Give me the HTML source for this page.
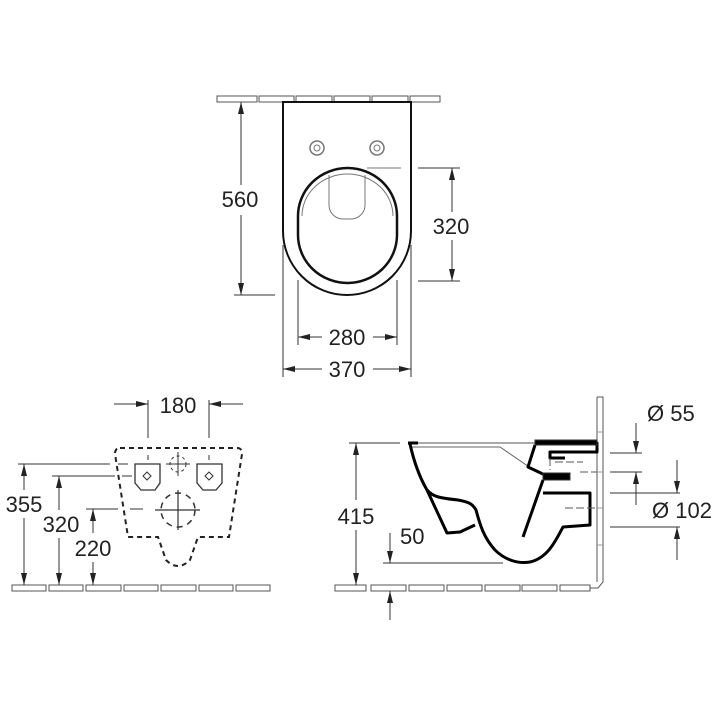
<!DOCTYPE html>
<html><head><meta charset="utf-8"><style>
html,body{margin:0;padding:0;background:#fff}
svg{display:block}
text{font-family:"Liberation Sans",sans-serif;font-size:22px;fill:#222}
</style></head><body>
<svg width="720" height="720" viewBox="0 0 720 720" xmlns="http://www.w3.org/2000/svg">
<defs>
<marker id="a" viewBox="0 0 12 6" refX="12" refY="3" markerWidth="12" markerHeight="6" markerUnits="userSpaceOnUse" orient="auto"><path d="M0,0 L12,3 L0,6 Z" fill="#222"/></marker>
</defs>
<g fill="none" stroke="#333" stroke-width="1">
<!-- TOP VIEW -->
<g stroke="#555">
<rect x="217" y="96" width="40" height="6"/><rect x="259" y="96" width="35" height="6"/><rect x="296" y="96" width="36" height="6"/><rect x="334" y="96" width="36" height="6"/><rect x="372" y="96" width="36" height="6"/><rect x="410" y="96" width="30" height="6"/>
</g>
<path d="M283,102 V231 A64,64 0 0 0 411,231 V102 Z" fill="#fff" stroke="#111" stroke-width="2"/>
<circle cx="317" cy="148" r="7" stroke="#777" stroke-width="1.5"/><circle cx="317" cy="148" r="3" stroke="#777"/>
<circle cx="377" cy="148" r="7" stroke="#777" stroke-width="1.5"/><circle cx="377" cy="148" r="3" stroke="#777"/>
<path d="M298,216 A49.5,48 0 0 1 397,216 V235 A49.5,48 0 0 1 298,235 Z" stroke="#111" stroke-width="2.5"/>
<path d="M302,216 A45.5,42 0 0 1 393,216" stroke="#777"/>
<path d="M329,175 V205 A14,14 0 0 0 343,219 H351 A14,14 0 0 0 365,205 V175" stroke="#777"/>
<line x1="234" y1="295" x2="275" y2="295"/>
<line x1="241" y1="185" x2="241" y2="102" marker-end="url(#a)"/>
<line x1="241" y1="215" x2="241" y2="295" marker-end="url(#a)"/>
<line x1="367" y1="168" x2="401" y2="168" stroke="#777"/>
<line x1="418" y1="168" x2="460" y2="168"/>
<line x1="418" y1="281" x2="460" y2="281"/>
<line x1="452" y1="212" x2="452" y2="168" marker-end="url(#a)"/>
<line x1="452" y1="240" x2="452" y2="281" marker-end="url(#a)"/>
<line x1="298" y1="280" x2="298" y2="345"/><line x1="397" y1="280" x2="397" y2="345"/>
<line x1="322" y1="337" x2="298" y2="337" marker-end="url(#a)"/>
<line x1="373" y1="337" x2="397" y2="337" marker-end="url(#a)"/>
<line x1="283" y1="245" x2="283" y2="377"/><line x1="411" y1="245" x2="411" y2="377"/>
<line x1="322" y1="369" x2="283" y2="369" marker-end="url(#a)"/>
<line x1="373" y1="369" x2="411" y2="369" marker-end="url(#a)"/>

<!-- FRONT VIEW -->
<g stroke="#555">
<rect x="12" y="585" width="34" height="6"/><rect x="49" y="585" width="34" height="6"/><rect x="86" y="585" width="35" height="6"/><rect x="124" y="585" width="34" height="6"/><rect x="161" y="585" width="35" height="6"/><rect x="199" y="585" width="34" height="6"/><rect x="236" y="585" width="34" height="6"/>
</g>
<line x1="148" y1="400" x2="148" y2="438"/><line x1="209" y1="400" x2="209" y2="438"/>
<line x1="114" y1="404" x2="148" y2="404" marker-end="url(#a)"/>
<line x1="243" y1="404" x2="209" y2="404" marker-end="url(#a)"/>
<path d="M120,448 H237 Q242,448 242,454 L229,537 H198 L190,560 Q178,572 166,560 L158,537 H128 L115,454 Q115,448 120,448 Z" stroke="#222" stroke-width="2" stroke-dasharray="5,4"/>
<path d="M135,464 H160 V483 L155,490 H141 L135,483 Z" stroke="#333" stroke-width="1.3"/>
<path d="M197,464 H222 V483 L216,490 H203 L197,483 Z" stroke="#333" stroke-width="1.3"/>
<path d="M143,476 L147,472 L151,476 L147,480 Z M205,476 L209,472 L213,476 L209,480 Z"/>
<line x1="148" y1="455" x2="148" y2="460"/><line x1="209" y1="455" x2="209" y2="460"/>
<circle cx="178" cy="464" r="8" stroke-dasharray="3,3"/>
<path d="M178,452 V476 M166,464 H190"/>
<circle cx="178" cy="510" r="17" stroke-width="1.5" stroke-dasharray="6,5"/>
<path d="M178,490 V530 M155,510 H200" stroke-width="1.2"/>
<line x1="18" y1="464" x2="110" y2="464"/><line x1="118" y1="464" x2="128" y2="464"/>
<line x1="52" y1="476" x2="115" y2="476"/><line x1="122" y1="476" x2="132" y2="476"/>
<line x1="86" y1="509" x2="118" y2="509"/><line x1="130" y1="509" x2="143" y2="509"/>
<line x1="24" y1="490" x2="24" y2="464" marker-end="url(#a)"/>
<line x1="24" y1="518" x2="24" y2="585" marker-end="url(#a)"/>
<line x1="59" y1="510" x2="59" y2="476" marker-end="url(#a)"/>
<line x1="59" y1="538" x2="59" y2="585" marker-end="url(#a)"/>
<line x1="93" y1="533" x2="93" y2="509" marker-end="url(#a)"/>
<line x1="93" y1="562" x2="93" y2="585" marker-end="url(#a)"/>

<!-- SIDE VIEW -->
<g stroke="#555">
<rect x="371" y="585" width="35" height="6"/><rect x="409" y="585" width="35" height="6"/><rect x="447" y="585" width="35" height="6"/><rect x="485" y="585" width="35" height="6"/><rect x="522" y="585" width="35" height="6"/><rect x="560" y="585" width="30" height="6"/>
<path d="M335,585 H366 V591 H335 Z"/>
<path d="M597,397 H603 V582 L598,588 H590 M597,397 V582"/>
<path d="M597,432 H603 M597,472 H603 M597,508 H603 M597,545 H603" stroke="#999"/>
</g>
<line x1="349" y1="443" x2="400" y2="443"/>
<line x1="356" y1="500" x2="356" y2="443" marker-end="url(#a)"/>
<line x1="356" y1="530" x2="356" y2="585" marker-end="url(#a)"/>
<line x1="408" y1="443" x2="597" y2="443" stroke="#555"/>
<path d="M411,447 H500 L538,473" stroke="#666"/>
<g stroke="#000" stroke-width="3" stroke-linejoin="round">
<path d="M408,443 H418"/>
<path d="M410,444 C414,462 420,478 427,490 L447,533 L460,532 L475,525"/>
<path d="M427,490 C433,497 440,498 458,500 C468,502 472,503 476,510 C480,525 484,538 495,550 C505,560 518,564 530,562 C548,558 556,540 563,527 L590,525 V493 H543"/>
<path d="M543,480 L536,500 L523,537"/>
<path d="M535,445 L528,467 L545,475"/>
<path d="M535,443 H597 V452 H550 V458 H565"/>
</g>
<rect x="535" y="440" width="62" height="5" fill="#000"/>
<rect x="543" y="473" width="27" height="7" fill="#000"/>
<path d="M550,458 V470 M555,462 H583 M580,472 H597 M565,508 H597" stroke="#555" stroke-dasharray="8,3"/>
<line x1="610" y1="453" x2="642" y2="453"/><line x1="610" y1="472" x2="642" y2="472"/>
<line x1="636" y1="423" x2="636" y2="453" marker-end="url(#a)"/>
<line x1="636" y1="505" x2="636" y2="472" marker-end="url(#a)"/>
<line x1="610" y1="493" x2="680" y2="493"/><line x1="610" y1="527" x2="680" y2="527"/>
<line x1="677" y1="460" x2="677" y2="493" marker-end="url(#a)"/>
<line x1="677" y1="560" x2="677" y2="527" marker-end="url(#a)"/>
<line x1="383" y1="563" x2="503" y2="563"/>
<line x1="390" y1="533" x2="390" y2="563" marker-end="url(#a)"/>
<line x1="390" y1="620" x2="390" y2="591" marker-end="url(#a)"/>
</g>
<g text-anchor="middle">
<rect x="219" y="188" width="44" height="23" fill="#fff"/>
<text x="240" y="207">560</text>
<rect x="429" y="215" width="46" height="23" fill="#fff"/>
<text x="451" y="234">320</text>
<text x="347" y="345">280</text>
<text x="347" y="377">370</text>
<text x="178" y="413">180</text>
<text x="24" y="512">355</text>
<text x="61" y="532">320</text>
<text x="93" y="556">220</text>
<text x="356" y="524">415</text>
</g>
<text x="400" y="544">50</text>
<text x="647" y="421">Ø 55</text>
<text x="652" y="518">Ø 102</text>
</svg>
</body></html>
